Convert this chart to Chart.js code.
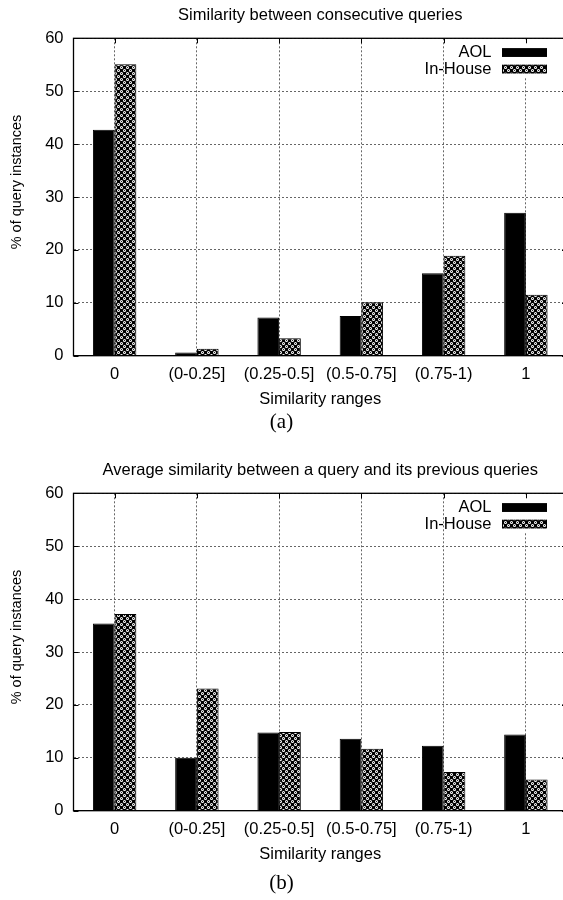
<!DOCTYPE html>
<html><head><meta charset="utf-8">
<script src="https://cdn.jsdelivr.net/npm/chart.js@4.4.1/dist/chart.umd.min.js"></script>
<style>
html,body{margin:0;padding:0;background:#fff;overflow:hidden;width:563px;height:900px;position:relative;}
.wrap{position:absolute;left:0;width:570px;height:430px;}
.cap{position:absolute;left:0;width:563px;text-align:center;font-family:"Liberation Serif","Times New Roman",serif;font-size:21px;line-height:24px;color:#000;}
</style></head><body>
<div class="wrap" style="top:0"><canvas id="ca" width="570" height="430"></canvas></div>
<div class="wrap" style="top:455px"><canvas id="cb" width="570" height="430"></canvas></div>
<div class="cap" style="top:409px">(a)</div>
<div class="cap" style="top:870px">(b)</div>
<script>
const categories = ['0', '(0-0.25]', '(0.25-0.5]', '(0.5-0.75]', '(0.75-1)', '1'];
const seriesLabels = ['AOL', 'In-House'];
const aolConsecutive = [42.7, 0.6, 7.2, 7.5, 15.6, 27.0];
const inHouseConsecutive = [55.1, 1.3, 3.3, 10.1, 18.9, 11.5];
const aolAverage = [35.4, 10.0, 14.8, 13.6, 12.3, 14.4];
const inHouseAverage = [37.2, 23.1, 14.9, 11.7, 7.3, 5.9];
const yTicks = [0, 10, 20, 30, 40, 50, 60];
const titleA = 'Similarity between consecutive queries';
const titleB = 'Average similarity between a query and its previous queries';
const xTitle = 'Similarity ranges';
const yTitle = '% of query instances';

const FONT = 'Liberation Sans';
const FS = 16.5;

function makePattern() {
  const c = document.createElement('canvas');
  c.width = 6; c.height = 6;
  const g = c.getContext('2d');
  g.fillStyle = '#000'; g.fillRect(0, 0, 6, 6);
  g.fillStyle = '#fff';
  [[1.5,1.5],[4.5,4.5]].forEach(([x,y]) => { g.beginPath(); g.arc(x, y, 1.5, 0, Math.PI*2); g.fill(); });
  g.fillStyle = '#000';
  [[1.5,1.5],[4.5,4.5]].forEach(([x,y]) => { g.beginPath(); g.arc(x, y, 0.55, 0, Math.PI*2); g.fill(); });
  return c;
}

const decorPlugin = {
  id: 'decor',
  afterDatasetsDraw(chart) {
    const ctx = chart.ctx, a = chart.chartArea;
    const xs = chart.scales.x, ys = chart.scales.y;
    ctx.save();
    ctx.fillStyle = '#fff';
    ctx.fillRect(498, a.top + 1, 56, 38);
    ctx.setLineDash([]);
    ctx.strokeStyle = '#000';
    ctx.lineWidth = 1;
    ctx.beginPath();
    yTicks.forEach(v => {
      const y = Math.round(ys.getPixelForValue(v)) + 0.5;
      ctx.moveTo(a.left, y); ctx.lineTo(a.left + 5, y);
      ctx.moveTo(a.right, y); ctx.lineTo(a.right - 5, y);
    });
    categories.forEach((c, i) => {
      const x = Math.round(xs.getPixelForValue(i)) + 0.5;
      ctx.moveTo(x, a.top); ctx.lineTo(x, a.top + 5);
      ctx.moveTo(x, a.bottom); ctx.lineTo(x, a.bottom - 5);
    });
    ctx.stroke();
    ctx.lineWidth = 1.3;
    ctx.strokeRect(a.left, a.top, a.right - a.left, a.bottom - a.top);
    // legend
    ctx.font = FS + 'px "' + FONT + '"';
    ctx.textAlign = 'right';
    ctx.textBaseline = 'middle';
    chart.data.datasets.forEach((ds, i) => {
      const yc = a.top + 14.2 + i * 16.5;
      ctx.fillStyle = '#000';
      ctx.fillText(ds.label, 491.5, yc);
      ctx.fillStyle = ds.backgroundColor;
      ctx.fillRect(502, yc - 4.2, 45, 8.5);
      ctx.lineWidth = 1;
      ctx.strokeStyle = '#000';
      ctx.strokeRect(502.5, yc - 3.7, 44, 7.5);
    });
    // title
    ctx.fillStyle = '#000';
    ctx.textAlign = 'center';
    ctx.fillText(chart.options.plugins.decor.title, (a.left + a.right) / 2, 15);
    // y axis title
    ctx.save();
    ctx.translate(17, 182);
    ctx.rotate(-Math.PI / 2);
    ctx.font = '14.5px "' + FONT + '"';
    ctx.fillText(yTitle, 0, 0);
    ctx.restore();
    ctx.restore();
  }
};

function makeChart(id, aol, inh, title) {
  const pat = document.getElementById(id).getContext('2d').createPattern(makePattern(), 'repeat');
  return new Chart(document.getElementById(id), {
    type: 'bar',
    data: {
      labels: categories,
      datasets: [
        { label: seriesLabels[0], data: aol, backgroundColor: '#000', borderColor: '#000', borderWidth: 1, categoryPercentage: 0.528, barPercentage: 1 },
        { label: seriesLabels[1], data: inh, backgroundColor: pat, borderColor: '#000', borderWidth: 1, categoryPercentage: 0.528, barPercentage: 1 }
      ]
    },
    options: {
      responsive: false, animation: false, devicePixelRatio: 1,
      layout: { padding: { top: 38.3, right: 3, left: 0, bottom: 0 } },
      plugins: { legend: { display: false }, title: { display: false }, tooltip: { enabled: false }, decor: { title: title } },
      scales: {
        x: {
          offset: true,
          grid: { offset: false, color: '#666', lineWidth: 1, drawTicks: false },
          border: { color: '#000', width: 1, dash: [2, 2] },
          ticks: { color: '#000', font: { family: FONT, size: FS }, padding: 8.5, maxRotation: 0, autoSkip: false },
          title: { display: true, text: xTitle, color: '#000', font: { family: FONT, size: FS }, padding: { top: 0, bottom: 21 } },
          afterFit(s) { s.height = 430 - 355.7; }
        },
        y: {
          min: 0, max: 60,
          afterBuildTicks(s) { s.ticks = yTicks.map(v => ({ value: v })); },
          grid: { color: '#666', lineWidth: 1, drawTicks: false },
          border: { color: '#000', width: 1, dash: [2, 2] },
          ticks: { color: '#000', font: { family: FONT, size: FS }, padding: 10 },
          title: { display: false },
          afterFit(s) { s.width = 73.5; }
        }
      }
    },
    plugins: [decorPlugin]
  });
}
makeChart('ca', aolConsecutive, inHouseConsecutive, titleA);
makeChart('cb', aolAverage, inHouseAverage, titleB);
</script>
</body></html>
